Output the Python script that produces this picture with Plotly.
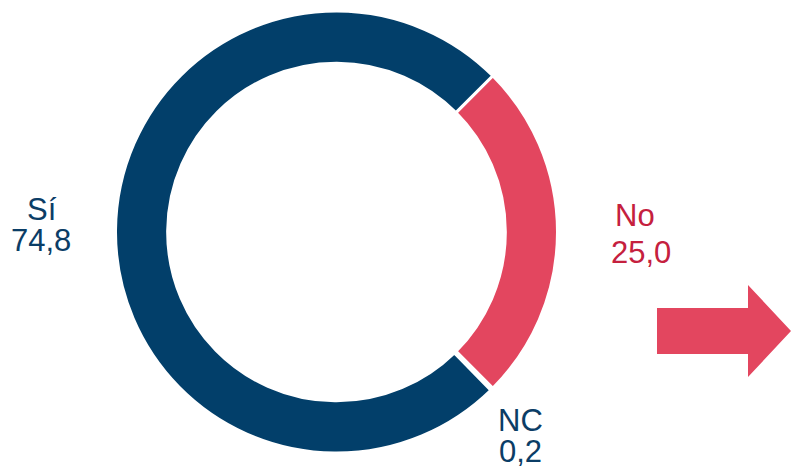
import plotly.graph_objects as go

# Data
labels = ["No", "NC", "Sí"]
values = [25.0, 0.2, 74.8]
value_text = ["25,0", "0,2", "74,8"]

BLUE = "#023f6a"
RED = "#e3465f"
TXT_BLUE = "#0b3d66"
TXT_RED = "#c5203e"

W, H = 791, 467
ML, MR, MT, MB = 0, 0, 11, 14
PW, PH = W - ML - MR, H - MT - MB


def px(x):
    return (x - ML) / PW


def py(y):
    return (H - MB - y) / PH


cx = 336.5
fig = go.Figure(
    go.Pie(
        labels=labels,
        values=values,
        hole=0.764,
        sort=False,
        direction="clockwise",
        rotation=45,
        marker=dict(colors=[RED, BLUE, BLUE], line=dict(color="white", width=3)),
        textinfo="none",
        hoverinfo="label+value",
        domain=dict(x=[0, 2 * cx / PW], y=[0, 1]),
        showlegend=False,
    )
)

label_pos = {
    "Sí": (42, 210, 40.5, 241, TXT_BLUE),
    "No": (635, 215, 641, 252.5, TXT_RED),
    "NC": (520, 420, 520, 451, TXT_BLUE),
}
ann = []
for lab, vt in zip(labels, value_text):
    x1, y1, x2, y2, col = label_pos[lab]
    for txt, xx, yy in ((lab, x1, y1), (vt, x2, y2)):
        ann.append(
            dict(
                text=txt, x=px(xx), y=py(yy), xref="paper", yref="paper",
                xanchor="center", yanchor="middle", showarrow=False,
                font=dict(family="Liberation Sans, Arial, sans-serif", size=31, color=col),
            )
        )

# decorative arrow
pts = [(657, 308), (748, 308), (748, 285), (791, 331), (748, 377), (748, 354), (657, 354)]
path = "M " + " L ".join(f"{px(a):.5f},{py(b):.5f}" for a, b in pts) + " Z"
shapes = [dict(type="path", path=path, xref="paper", yref="paper",
               fillcolor=RED, line=dict(width=0))]

fig.update_layout(
    width=W, height=H,
    margin=dict(l=ML, r=MR, t=MT, b=MB),
    paper_bgcolor="white", plot_bgcolor="white",
    annotations=ann, shapes=shapes,
)

fig.write_html("out.html", config={"displayModeBar": False},
               post_script="document.body.style.margin='0px';")
